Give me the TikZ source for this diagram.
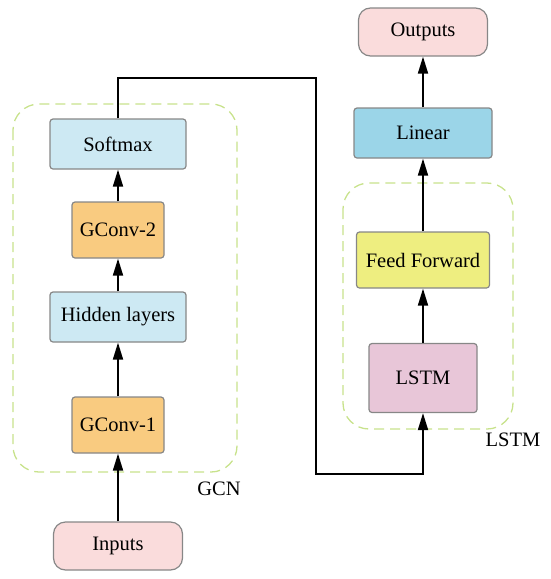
\documentclass[tikz,border=0pt]{standalone}
\usepackage{fontspec}
\setmainfont{Liberation Serif}
\usepackage{tikz}
\usetikzlibrary{arrows.meta,positioning}
\definecolor{boxGray}{RGB}{135,135,135}
\definecolor{paleBlue}{RGB}{205,233,243}
\definecolor{gcnOrange}{RGB}{249,203,128}
\definecolor{ioPink}{RGB}{250,220,220}
\definecolor{linearBlue}{RGB}{155,213,232}
\definecolor{ffYellow}{RGB}{238,238,128}
\definecolor{lstmPink}{RGB}{232,198,216}
\definecolor{groupGreen}{RGB}{200,226,140}

\begin{document}
\begin{tikzpicture}[x=1pt,y=-1pt,
  font=\fontsize{20.5}{23}\selectfont,
  block/.style={draw=boxGray, line width=1.2pt, rounded corners=3pt, inner sep=0pt},
  ioblock/.style={block, fill=ioPink, rounded corners=12pt, minimum width=129pt, minimum height=48pt},
  group/.style={draw=groupGreen, line width=1.3pt, dash pattern=on 10pt off 6pt, rounded corners=26pt},
  flow/.style={line width=1.8pt, -{Triangle[length=17pt,width=10pt]}}]
\useasboundingbox (0,0) rectangle (550,579);

% GCN branch
\draw[group] (13,104) rectangle (237,472);
\node at (219,489) {GCN};
\node[ioblock] (inputs) at (118,546) {Inputs};
\node[block, fill=gcnOrange, minimum width=92pt, minimum height=56pt] (gconvOne) at (118,425) {GConv-1};
\node[block, fill=paleBlue, minimum width=136pt, minimum height=50pt] (hidden) at (118,317) {Hidden layers};
\node[block, fill=gcnOrange, minimum width=92pt, minimum height=56pt] (gconvTwo) at (118,230) {GConv-2};
\node[block, fill=paleBlue, minimum width=136pt, minimum height=50pt] (softmax) at (118,144) {Softmax};

% LSTM branch
\draw[group] (343,183) rectangle (513,429);
\node at (513,440) {LSTM};
\node[block, fill=lstmPink, minimum width=108pt, minimum height=69pt] (lstm) at (423,378) {LSTM};
\node[block, fill=ffYellow, minimum width=133pt, minimum height=56pt] (feed) at (423,260) {Feed Forward};
\node[block, fill=linearBlue, minimum width=138pt, minimum height=50pt] (linear) at (423,133) {Linear};
\node[ioblock] (outputs) at (423,32) {Outputs};

\coordinate (bendTop) at (316,78);
\coordinate (bendLow) at (316,474);

\draw[flow] (inputs) -- (gconvOne);
\draw[flow] (gconvOne) -- (hidden);
\draw[flow] (hidden) -- (gconvTwo);
\draw[flow] (gconvTwo) -- (softmax);
\draw[flow] (softmax.north) |- (bendTop) -- (bendLow) -| (lstm.south);
\draw[flow] (lstm) -- (feed);
\draw[flow] (feed) -- (linear);
\draw[flow] (linear) -- (outputs);
\end{tikzpicture}
\end{document}
